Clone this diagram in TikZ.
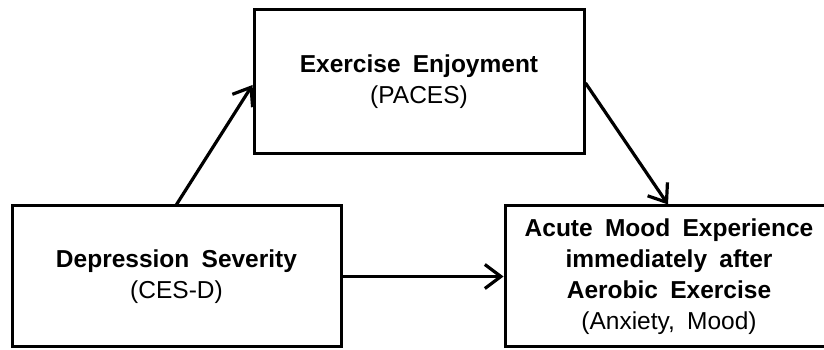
\documentclass[tikz,border=0pt]{standalone}
\usepackage{fontspec}
\setmainfont[WordSpace=1.8]{Liberation Sans}
\usetikzlibrary{arrows.meta}
\begin{document}
\begin{tikzpicture}[x=1pt,y=1pt,
  boxnode/.style={draw=black, line width=3pt, rectangle, align=center,
    font=\fontsize{24.5}{31}\selectfont, inner sep=0pt},
  link/.style={line width=3.2pt, -{Straight Barb[length=16pt,width=24pt,line width=3.2pt]}}]
\useasboundingbox (0,0) rectangle (824,350);
\clip (0,0) rectangle (824,350);
\node[boxnode, minimum width=330pt, minimum height=144pt] (enj) at (419,268)
  {\textbf{Exercise Enjoyment}\\(PACES)};
\node[boxnode, minimum width=329pt, minimum height=141pt] (dep) at (176.5,73.5)
  {\textbf{Depression Severity}\\(CES-D)};
\node[boxnode, minimum width=328pt, minimum height=141pt] (mood) at (669,73.5)
  {\textbf{Acute Mood Experience}\\\textbf{immediately after}\\\textbf{Aerobic Exercise}\\(Anxiety, Mood)};
\draw[link] (dep.north) -- ([yshift=-3pt]enj.west);
\draw[link] ([yshift=-1pt]enj.east) -- ([xshift=-1pt]mood.north);
\draw[link] (dep.east) -- (mood.west);
\end{tikzpicture}
\end{document}
